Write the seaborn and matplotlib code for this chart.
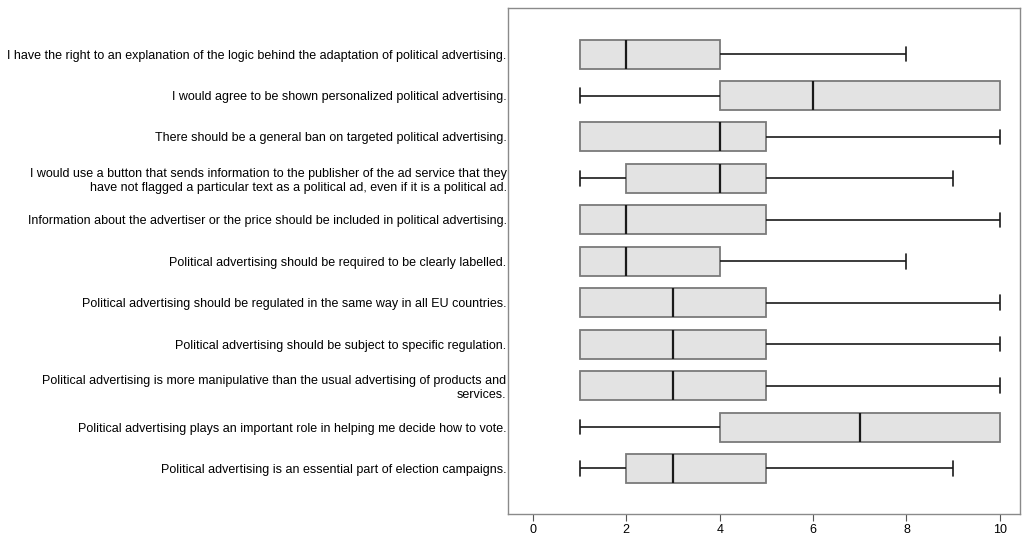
import numpy as np
import pandas as pd
import matplotlib
matplotlib.use("Agg")
import matplotlib.pyplot as plt
import seaborn as sns

# Survey statements (0-10 agreement scale) and their five-number summaries
statements = [
    "I have the right to an explanation of the logic behind the adaptation of political advertising.",
    "I would agree to be shown personalized political advertising.",
    "There should be a general ban on targeted political advertising.",
    "I would use a button that sends information to the publisher of the ad service that they\n"
    "have not flagged a particular text as a political ad, even if it is a political ad.",
    "Information about the advertiser or the price should be included in political advertising.",
    "Political advertising should be required to be clearly labelled.",
    "Political advertising should be regulated in the same way in all EU countries.",
    "Political advertising should be subject to specific regulation.",
    "Political advertising is more manipulative than the usual advertising of products and\n"
    "services.",
    "Political advertising plays an important role in helping me decide how to vote.",
    "Political advertising is an essential part of election campaigns.",
]
minimum = [1, 1, 1, 1, 1, 1, 1, 1, 1, 1, 1]
lower_quartile = [1, 4, 1, 2, 1, 1, 1, 1, 1, 4, 2]
median = [2, 6, 4, 4, 2, 2, 3, 3, 3, 7, 3]
upper_quartile = [4, 10, 5, 5, 5, 4, 5, 5, 5, 10, 5]
maximum = [8, 10, 10, 9, 10, 8, 10, 10, 10, 10, 9]
x_ticks = [0, 2, 4, 6, 8, 10]

# Long-form table: the five summary points per statement reproduce the
# quartiles exactly under linear interpolation
rows = []
for s, a, b, c, d, e in zip(statements, minimum, lower_quartile, median,
                            upper_quartile, maximum):
    for v in (a, b, c, d, e):
        rows.append({"statement": s, "score": v})
df = pd.DataFrame(rows)

sns.set_style("white")
plt.rcParams["font.family"] = ["Liberation Sans", "DejaVu Sans"]
plt.rcParams["text.color"] = "black"
plt.rcParams["xtick.color"] = "black"
plt.rcParams["ytick.color"] = "black"

fig = plt.figure(figsize=(10.22, 5.40), dpi=100)
ax = fig.add_axes([0.497, 0.048, 0.501, 0.937])

sns.boxplot(
    data=df, x="score", y="statement", order=statements, orient="h",
    color="#e3e3e3", saturation=1, width=0.7, whis=(0, 100),
    linewidth=1.2, ax=ax,
    boxprops=dict(edgecolor="#7a7a7a", linewidth=1.3),
    whiskerprops=dict(color="#1a1a1a", linewidth=1.2),
    capprops=dict(color="#1a1a1a", linewidth=1.2),
    medianprops=dict(color="#1a1a1a", linewidth=1.6),
)

# Hide caps of zero-length whiskers (they would sit on the box edge)
for line in ax.lines:
    xd = np.asarray(line.get_xdata(), dtype=float)
    yd = np.asarray(line.get_ydata(), dtype=float)
    if len(xd) != 2 or xd[0] != xd[1]:
        continue
    span = abs(yd[1] - yd[0])
    if span > 0.5:
        continue  # median line
    row = int(round(yd.mean()))
    xv = xd[0]
    if (xv == minimum[row] == lower_quartile[row]) or \
       (xv == maximum[row] == upper_quartile[row]):
        line.set_visible(False)

ax.set_xlim(-0.535, 10.43)
ax.set_ylim(len(statements) - 1 + 1.10, -1.11)
ax.set_xticks(x_ticks)
ax.set_xticklabels([str(t) for t in x_ticks], fontsize=9)
ax.set_xlabel("")
ax.set_ylabel("")
ax.tick_params(axis="x", bottom=True, length=5, width=0.8, color="#555555",
               labelcolor="black", pad=2)
ax.tick_params(axis="y", left=False, length=0, pad=1, labelsize=9,
               labelcolor="black")
for lbl in ax.get_yticklabels():
    lbl.set_linespacing(1.25)

for sp in ax.spines.values():
    sp.set_color("#8a8a8a")
    sp.set_linewidth(1.0)

fig.savefig("out.png", dpi=100, facecolor="white")
